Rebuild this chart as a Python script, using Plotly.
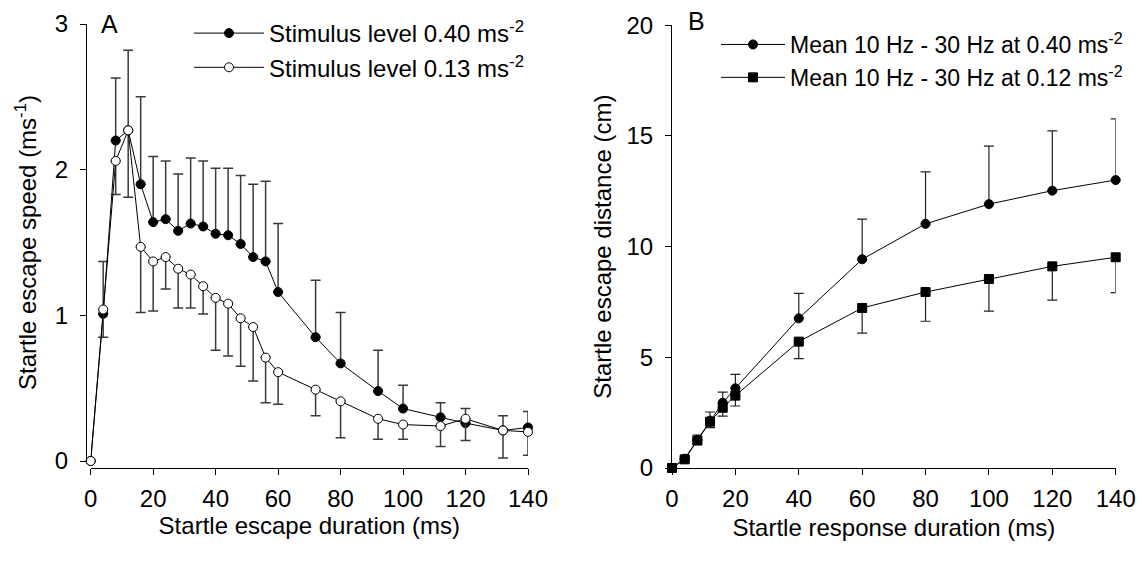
import plotly.graph_objects as go

# ---------------- data ----------------
time_a = [0, 4, 8, 12, 16, 20, 24, 28, 32, 36, 40, 44, 48, 52, 56, 60, 72, 80, 92, 100, 112, 120, 132, 140]
speed_040 = [0, 1.01, 2.20, 2.27, 1.90, 1.64, 1.66, 1.58, 1.63, 1.61, 1.56, 1.55, 1.49, 1.40, 1.37, 1.16,
             0.85, 0.67, 0.48, 0.36, 0.30, 0.26, 0.21, 0.23]
err_040 = [0, 0.36, 0.43, 0.55, 0.60, 0.45, 0.40, 0.39, 0.45, 0.45, 0.45, 0.46, 0.47, 0.50, 0.55, 0.47,
           0.39, 0.35, 0.28, 0.16, 0.10, 0.10, 0.10, 0.11]
speed_013 = [0, 1.04, 2.06, 2.27, 1.47, 1.37, 1.40, 1.32, 1.28, 1.20, 1.12, 1.08, 0.98, 0.92, 0.71, 0.61,
             0.49, 0.41, 0.29, 0.25, 0.24, 0.29, 0.21, 0.20]
err_013 = [0, 0.19, 0.23, 0.46, 0.45, 0.34, 0.22, 0.27, 0.23, 0.19, 0.36, 0.36, 0.33, 0.37, 0.31, 0.22,
           0.18, 0.25, 0.14, 0.10, 0.14, 0.15, 0.19, 0.16]

time_b = [0, 4, 8, 12, 16, 20, 40, 60, 80, 100, 120, 140]
dist_040 = [0, 0.42, 1.27, 2.14, 2.95, 3.60, 6.76, 9.43, 11.03, 11.92, 12.53, 13.01]
err_dist_040 = [0, 0.10, 0.22, 0.39, 0.48, 0.63, 1.13, 1.81, 2.35, 2.62, 2.70, 2.76]
dist_012 = [0, 0.39, 1.24, 2.09, 2.72, 3.27, 5.71, 7.23, 7.95, 8.54, 9.11, 9.52]
err_dist_012 = [0, 0.08, 0.15, 0.27, 0.38, 0.47, 0.77, 1.14, 1.32, 1.45, 1.53, 1.60]

x_ticks = [0, 20, 40, 60, 80, 100, 120, 140]
y_ticks_a = [0, 1, 2, 3]
y_ticks_b = [0, 5, 10, 15, 20]

label_a1 = "Stimulus level 0.40 ms<sup>-2</sup>"
label_a2 = "Stimulus level 0.13 ms<sup>-2</sup>"
label_b1 = "Mean 10 Hz - 30 Hz at 0.40 ms<sup>-2</sup>"
label_b2 = "Mean 10 Hz - 30 Hz at 0.12 ms<sup>-2</sup>"

# ---------------- layout helpers ----------------
W, H = 1142, 561
def fx(px):
    return px / W
def fy(py):
    return 1 - py / H

FONT = "Liberation Sans, Arial, sans-serif"
FS = 24
zeros_a = [0] * len(time_a)
zeros_b = [0] * len(time_b)

fig = go.Figure()

# Panel A
fig.add_trace(go.Scatter(
    x=time_a, y=speed_040, mode="lines+markers", name=label_a1,
    line=dict(color="black", width=1),
    marker=dict(symbol="circle", size=9, color="black", line=dict(color="black", width=1)),
    error_y=dict(type="data", symmetric=False, array=err_040, arrayminus=zeros_a,
                 color="#3a3a3a", thickness=1.5, width=5),
    cliponaxis=False, xaxis="x", yaxis="y", legend="legend"))
fig.add_trace(go.Scatter(
    x=time_a, y=speed_013, mode="lines+markers", name=label_a2,
    line=dict(color="black", width=1),
    marker=dict(symbol="circle", size=9, color="white", line=dict(color="black", width=1)),
    error_y=dict(type="data", symmetric=False, array=zeros_a, arrayminus=err_013,
                 color="#3a3a3a", thickness=1.5, width=5),
    cliponaxis=False, xaxis="x", yaxis="y", legend="legend"))

# Panel B
fig.add_trace(go.Scatter(
    x=time_b, y=dist_040, mode="lines+markers", name=label_b1,
    line=dict(color="black", width=1),
    marker=dict(symbol="circle", size=9, color="black", line=dict(color="black", width=1)),
    error_y=dict(type="data", symmetric=False, array=err_dist_040, arrayminus=zeros_b,
                 color="#222", thickness=1.2, width=5),
    cliponaxis=False, xaxis="x2", yaxis="y2", legend="legend2"))
fig.add_trace(go.Scatter(
    x=time_b, y=dist_012, mode="lines+markers", name=label_b2,
    line=dict(color="black", width=1),
    marker=dict(symbol="square", size=9, color="black", line=dict(color="black", width=1)),
    error_y=dict(type="data", symmetric=False, array=zeros_b, arrayminus=err_dist_012,
                 color="#222", thickness=1.2, width=5),
    cliponaxis=False, xaxis="x2", yaxis="y2", legend="legend2"))

axis_common = dict(showgrid=False, zeroline=False, showline=True, linecolor="black", linewidth=1,
                   ticks="outside", ticklen=6, tickcolor="black", tickwidth=1,
                   tickfont=dict(family=FONT, size=FS, color="black"),
                   automargin=False)

fig.update_layout(
    width=W, height=H,
    margin=dict(l=0, r=0, t=0, b=0),
    paper_bgcolor="white", plot_bgcolor="white",
    font=dict(family=FONT, size=FS, color="black"),
    xaxis=dict(axis_common, domain=[fx(90.7), fx(528)], range=[0, 140], tickvals=x_ticks,
               anchor="free", position=fy(468), ticklabelstandoff=3,
               title=dict(text="Startle escape duration (ms)", font=dict(family=FONT, size=FS), standoff=0)),
    yaxis=dict(axis_common, domain=[fy(461), fy(24)], range=[0, 3], tickvals=y_ticks_a,
               anchor="free", position=fx(86), ticklabelstandoff=7,
               title=dict(text="Startle escape speed (ms<sup>-1</sup>)", font=dict(family=FONT, size=FS), standoff=10)),
    xaxis2=dict(axis_common, domain=[fx(672), fx(1115.7)], range=[0, 140], tickvals=x_ticks,
                anchor="y2", ticklabelstandoff=3,
                title=dict(text="Startle response duration (ms)", font=dict(family=FONT, size=FS), standoff=8)),
    yaxis2=dict(axis_common, domain=[fy(468), fy(25.3)], range=[0, 20], tickvals=y_ticks_b,
                anchor="x2", ticklabelstandoff=7,
                title=dict(text="Startle escape distance (cm)", font=dict(family=FONT, size=FS), standoff=8)),
    legend=dict(x=fx(189), y=fy(11), xanchor="left", yanchor="top", bgcolor="rgba(0,0,0,0)",
                font=dict(family=FONT, size=FS, color="black"), itemwidth=70),
    legend2=dict(x=fx(716), y=fy(23), xanchor="left", yanchor="top", bgcolor="rgba(0,0,0,0)",
                 font=dict(family=FONT, size=23, color="black"), itemwidth=64),
    showlegend=True,
    annotations=[
        dict(text="A", x=fx(99), y=fy(24), xref="paper", yref="paper", xanchor="left", yanchor="middle",
             showarrow=False, font=dict(family=FONT, size=25, color="black")),
        dict(text="B", x=fx(686), y=fy(21), xref="paper", yref="paper", xanchor="left", yanchor="middle",
             showarrow=False, font=dict(family=FONT, size=25, color="black")),
    ],
)

fig.write_html("out.html")
